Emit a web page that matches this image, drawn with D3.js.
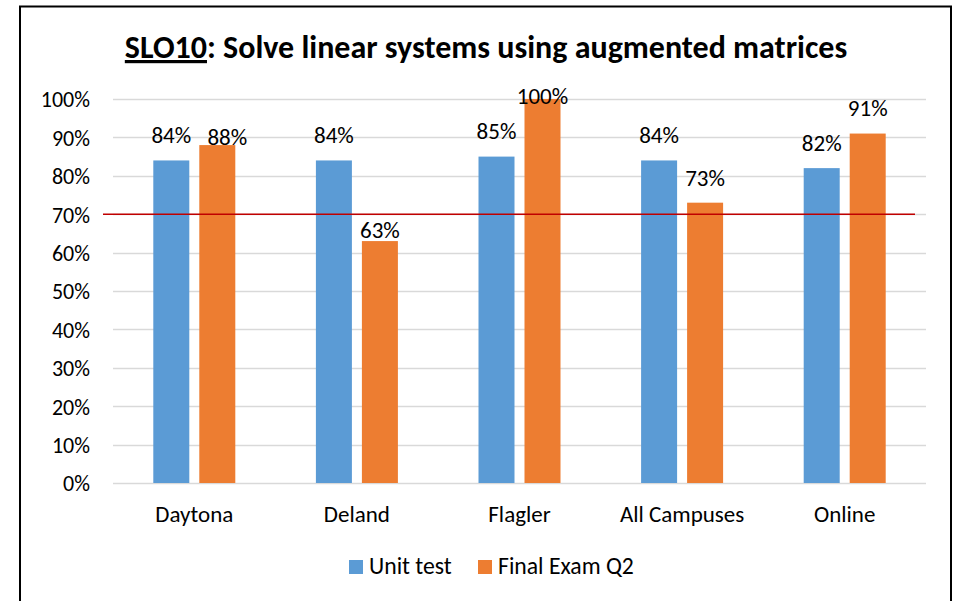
<!DOCTYPE html>
<html>
<head>
<meta charset="utf-8">
<script src="https://cdn.jsdelivr.net/npm/d3@7"></script>
<style>
  html, body { margin: 0; padding: 0; background: #fff; }
  svg { display: block; }
  text { font-family: Calibri, Carlito, Lato, "Open Sans", sans-serif; fill: #000; }
</style>
</head>
<body>
<svg id="chart" width="956" height="601"></svg>
<script>
// ---- data ----
const categories = ["Daytona", "Deland", "Flagler", "All Campuses", "Online"];
const seriesNames = ["Unit test", "Final Exam Q2"];
const unitTest = [0.84, 0.84, 0.85, 0.84, 0.82];
const finalExam = [0.88, 0.63, 1.00, 0.73, 0.91];
const threshold = 0.70;
const yTicks = [0, 0.1, 0.2, 0.3, 0.4, 0.5, 0.6, 0.7, 0.8, 0.9, 1.0];
const titleUnderlined = "SLO10";
const titleRest = ": Solve linear systems using augmented matrices";

// ---- layout ----
const colors = ["#5B9BD5", "#ED7D31"];
const plot = { left: 113, right: 926, top: 99, bottom: 483 };
// manual nudges of the Final Exam labels (as placed in the source chart)
const orangeLabelNudge = [[10, 17], [0, 14], [0, 22], [0, 0], [0, 0]];

const svg = d3.select("#chart");

// frame
svg.append("rect").attr("x", 20).attr("y", 6.5).attr("width", 931).attr("height", 620)
  .attr("fill", "#fff").attr("stroke", "#000").attr("stroke-width", 2);

const x = d3.scaleBand().domain(categories).range([plot.left, plot.right]).paddingInner(0).paddingOuter(0);
const y = d3.scaleLinear().domain([0, 1]).range([plot.bottom, plot.top]);

const bw = x.bandwidth() * 0.2214;
const gap = x.bandwidth() * 0.0615;

// gridlines
svg.append("g").selectAll("line").data(yTicks).join("line")
  .attr("x1", plot.left).attr("x2", plot.right)
  .attr("y1", d => Math.round(y(d)) + 0.5).attr("y2", d => Math.round(y(d)) + 0.5)
  .attr("stroke", "#D9D9D9").attr("stroke-width", 1.5);

// y axis labels
const yAxis = d3.axisLeft(y).tickValues(yTicks).tickFormat(d3.format(".0%")).tickSize(0).tickPadding(0);
const gy = svg.append("g").attr("transform", `translate(90,0)`).call(yAxis);
gy.select(".domain").remove();
gy.selectAll("text").style("font-size", "22px").attr("fill", "#000")
  .style("font-family", "Calibri, Carlito, Lato, sans-serif").attr("dy", "0.36em");

// bars
const series = [unitTest, finalExam];
series.forEach((vals, si) => {
  svg.append("g").selectAll("rect").data(vals).join("rect")
    .attr("x", (d, i) => {
      const c = x(categories[i]) + x.bandwidth() / 2;
      return si === 0 ? c - gap / 2 - bw : c + gap / 2;
    })
    .attr("y", d => y(d))
    .attr("width", bw)
    .attr("height", d => y(0) - y(d))
    .attr("fill", colors[si]);
});

// threshold line
svg.append("line")
  .attr("x1", plot.left - 10).attr("x2", plot.right - 11)
  .attr("y1", y(threshold)).attr("y2", y(threshold))
  .attr("stroke", "#C00000").attr("stroke-width", 1.6);

// data labels
const fmt = d3.format(".0%");
series.forEach((vals, si) => {
  svg.append("g").selectAll("text").data(vals).join("text")
    .attr("x", (d, i) => {
      const c = x(categories[i]) + x.bandwidth() / 2;
      const cx = si === 0 ? c - gap / 2 - bw / 2 : c + gap / 2 + bw / 2;
      return cx + (si === 1 ? orangeLabelNudge[i][0] : 0);
    })
    .attr("y", (d, i) => y(d) - 25.4 + (si === 1 ? orangeLabelNudge[i][1] : 0))
    .attr("dy", "0.36em")
    .attr("text-anchor", "middle")
    .style("font-size", "23px")
    .text(d => fmt(d));
});

// category labels
svg.append("g").selectAll("text").data(categories).join("text")
  .attr("x", d => x(d) + x.bandwidth() / 2)
  .attr("y", 522)
  .attr("text-anchor", "middle")
  .style("font-size", "23px")
  .text(d => d);

// title
const title = svg.append("text").attr("x", 486).attr("y", 58)
  .attr("text-anchor", "middle")
  .style("font-size", "32px").style("font-weight", "bold");
title.append("tspan").style("text-decoration", "underline").text(titleUnderlined);
title.append("tspan").text(titleRest);

// legend
const legend = svg.append("g");
const legendX = [349, 478];
seriesNames.forEach((name, i) => {
  legend.append("rect").attr("x", legendX[i]).attr("y", 560).attr("width", 14).attr("height", 14).attr("fill", colors[i]);
  legend.append("text").attr("x", legendX[i] + 20).attr("y", 574).style("font-size", "23.7px").text(name);
});
</script>
</body>
</html>
